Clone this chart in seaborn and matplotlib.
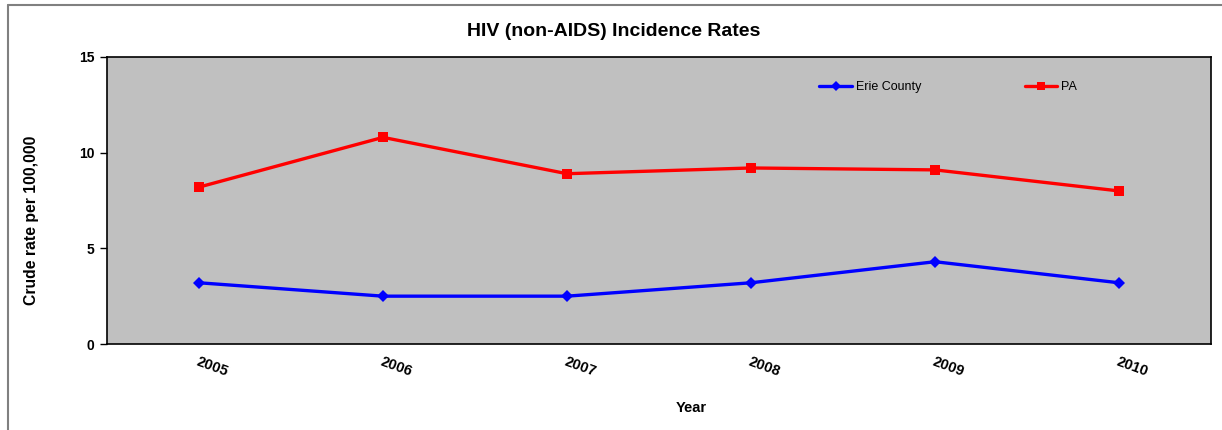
import matplotlib
matplotlib.use('Agg')
import matplotlib.pyplot as plt
import seaborn as sns
import pandas as pd
from matplotlib.lines import Line2D
from matplotlib.ticker import FixedLocator

years = ["2005", "2006", "2007", "2008", "2009", "2010"]
erie_county = [3.2, 2.5, 2.5, 3.2, 4.3, 3.2]
pa = [8.2, 10.8, 8.9, 9.2, 9.1, 8.0]
series_names = ["Erie County", "PA"]

df = pd.DataFrame({
    "Year": list(range(len(years))) * 2,
    "Rate": erie_county + pa,
    "Series": [series_names[0]] * len(years) + [series_names[1]] * len(years),
})

sns.set_style("white")
plt.rcParams['font.family'] = ['Liberation Sans', 'DejaVu Sans']
plt.rcParams['text.color'] = 'black'
plt.rcParams['axes.labelcolor'] = 'black'
plt.rcParams['xtick.color'] = 'black'
plt.rcParams['ytick.color'] = 'black'

fig = plt.figure(figsize=(12.22, 4.30), dpi=100)
ax = fig.add_axes([107 / 1222, 86 / 430, 1104 / 1222, 287 / 430])
ax.set_facecolor("#C0C0C0")

sns.lineplot(
    data=df, x="Year", y="Rate", hue="Series", style="Series",
    palette={"Erie County": "#0000FF", "PA": "#FF0000"},
    markers={"Erie County": "D", "PA": "s"}, dashes=False,
    linewidth=2.4, markersize=6.5, markeredgewidth=0,
    ax=ax, legend=False,
)

ax.set_xlim(-0.5, len(years) - 0.5)
ax.set_ylim(0, 15)
ax.set_yticks([0, 5, 10, 15])
ax.set_yticklabels(["0", "5", "10", "15"], fontsize=10, fontweight='bold')
ax.set_xticks(range(len(years)))
ax.set_xticklabels(years, fontsize=10.5, fontweight='bold', rotation=-20,
                   ha='left', va='top', rotation_mode='anchor')
ax.xaxis.set_minor_locator(FixedLocator([i - 0.5 for i in range(len(years) + 1)]))
ax.tick_params(axis='x', which='major', length=0, pad=8)
ax.tick_params(axis='x', which='minor', length=5, width=1, direction='out', color='black')
ax.tick_params(axis='y', length=5, width=1, direction='out', color='black', pad=4, left=True)

for side in ['left', 'bottom', 'top', 'right']:
    ax.spines[side].set_color('black')
    ax.spines[side].set_linewidth(1.2)
    ax.spines[side].set_visible(True)

ax.set_xlabel("Year", fontsize=10.5, fontweight='bold')
ax.xaxis.set_label_coords((691 - 107) / 1104, -(408 - 344) / 287)
ax.set_ylabel("Crude rate per 100,000", fontsize=11.3, fontweight='bold')
ax.yaxis.set_label_coords(-(107 - 32) / 1104, (344 - 220) / 287)
ax.xaxis.label.set_va('center')
ax.yaxis.label.set_va('center')
fig.text(0.502, 1 - 32 / 430, "HIV (non-AIDS) Incidence Rates", fontsize=14,
         fontweight='bold', ha='center', va='center')

handles = [
    Line2D([], [], color="#0000FF", marker="D", linewidth=2.4, markersize=5, markeredgewidth=0),
    Line2D([], [], color="#FF0000", marker="s", linewidth=2.4, markersize=6, markeredgewidth=0),
]
ax.legend(handles, series_names, loc='center left', bbox_to_anchor=(0.635, 0.895),
          ncol=2, frameon=False, fontsize=9, handlelength=2.6, handletextpad=0.3,
          columnspacing=8.3)

# chart frame (top and left edges visible)
fig.add_artist(Line2D([8 / 1222, 8 / 1222], [0, 1 - 5 / 430], color='#808080', linewidth=1.5,
                      transform=fig.transFigure))
fig.add_artist(Line2D([8 / 1222, 1], [1 - 5 / 430, 1 - 5 / 430], color='#808080', linewidth=1.5,
                      transform=fig.transFigure))

fig.savefig("out.png", dpi=100)
